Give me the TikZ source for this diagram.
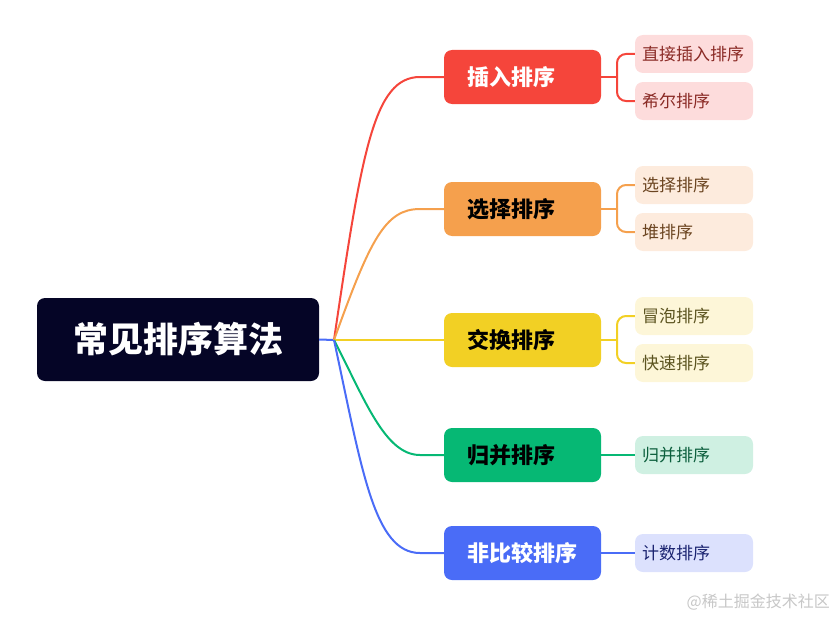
\documentclass[tikz,border=0pt]{standalone}
\usepackage{fontspec}
\setmainfont{Noto Sans CJK SC}
\definecolor{rootc}{HTML}{050526}
\definecolor{cred}{HTML}{F5453B}
\definecolor{corange}{HTML}{F5A04D}
\definecolor{cyellow}{HTML}{F2D024}
\definecolor{cgreen}{HTML}{06B874}
\definecolor{cblue}{HTML}{4A6CF7}
\definecolor{lred}{HTML}{FDDCDC}
\definecolor{lorange}{HTML}{FDEBDD}
\definecolor{lyellow}{HTML}{FDF6D8}
\definecolor{lgreen}{HTML}{CFF0E2}
\definecolor{lblue}{HTML}{DCE1FD}
\definecolor{tred}{HTML}{8A2A25}
\definecolor{torange}{HTML}{6B4420}
\definecolor{tyellow}{HTML}{5C5420}
\definecolor{tgreen}{HTML}{0B5E3C}
\definecolor{tblue}{HTML}{1A2370}
\begin{document}
\begin{tikzpicture}[x=1pt,y=-1pt,
  rootbox/.style={fill=rootc,text=white,rounded corners=8pt,minimum width=282pt,minimum height=83pt,inner sep=0pt,font=\fontsize{35}{40}\selectfont\bfseries},
  branchbox/.style={rounded corners=8pt,minimum height=54pt,inner xsep=23pt,inner ysep=0pt,text width=111pt,align=left,font=\fontsize{22}{26}\selectfont\bfseries},
  leafbox/.style={rounded corners=8pt,minimum height=38pt,inner xsep=7pt,inner ysep=0pt,text width=104pt,align=left,font=\fontsize{17}{20}\selectfont},
  conn/.style={line width=2pt},
  bconn/.style={line width=2pt,rounded corners=9pt}]
\useasboundingbox (0,0) rectangle (835,618);
% root
\node[rootbox] (root) at (178,339.5) {常见排序算法};
\coordinate (hub) at (334,340);
% branches
\node[branchbox,fill=cred,text=white] (b1) at (522.5,77) {插入排序};
\node[branchbox,fill=corange,text=black] (b2) at (522.5,209) {选择排序};
\node[branchbox,fill=cyellow,text=black] (b3) at (522.5,340) {交换排序};
\node[branchbox,fill=cgreen,text=black] (b4) at (522.5,455) {归并排序};
\node[branchbox,fill=cblue,text=white] (b5) at (522.5,553) {非比较排序};
% leaves
\node[leafbox,fill=lred,text=tred] (l11) at (694,54) {直接插入排序};
\node[leafbox,fill=lred,text=tred] (l12) at (694,101) {希尔排序};
\node[leafbox,fill=lorange,text=torange] (l21) at (694,185) {选择排序};
\node[leafbox,fill=lorange,text=torange] (l22) at (694,232) {堆排序};
\node[leafbox,fill=lyellow,text=tyellow] (l31) at (694,316) {冒泡排序};
\node[leafbox,fill=lyellow,text=tyellow] (l32) at (694,363) {快速排序};
\node[leafbox,fill=lgreen,text=tgreen] (l41) at (694,455) {归并排序};
\node[leafbox,fill=lblue,text=tblue] (l51) at (694,553) {计数排序};
% root to hub
\draw[conn,cblue] (root.east) -- (hub);
% hub to branches
\draw[conn,cred] (hub) .. controls (362,150) and (374,77) .. (420,77) -- (b1.west);
\draw[conn,corange] (hub) .. controls (370,240) and (385,209) .. (420,209) -- (b2.west);
\draw[conn,cyellow] (hub) -- (b3.west);
\draw[conn,cgreen] (hub) .. controls (365,400) and (385,455) .. (420,455) -- (b4.west);
\draw[conn,cblue] (hub) .. controls (362,470) and (374,553) .. (420,553) -- (b5.west);
% branch to leaves
\coordinate (j1) at (617,77);
\coordinate (j2) at (617,209);
\coordinate (j3) at (617,340);
\draw[conn,cred] (b1.east) -- (j1);
\draw[bconn,cred] (l11.west) -| (j1) |- (l12.west);
\draw[conn,corange] (b2.east) -- (j2);
\draw[bconn,corange] (l21.west) -| (j2) |- (l22.west);
\draw[conn,cyellow] (b3.east) -- (j3);
\draw[bconn,cyellow] (l31.west) -| (j3) |- (l32.west);
\draw[conn,cgreen] (b4.east) -- (l41.west);
\draw[conn,cblue] (b5.east) -- (l51.west);
% watermark
\node[anchor=east,text=black!22,font=\fontsize{16}{18}\selectfont,inner sep=0pt] (wm) at (830,602) {@稀土掘金技术社区};
\end{tikzpicture}
\end{document}
